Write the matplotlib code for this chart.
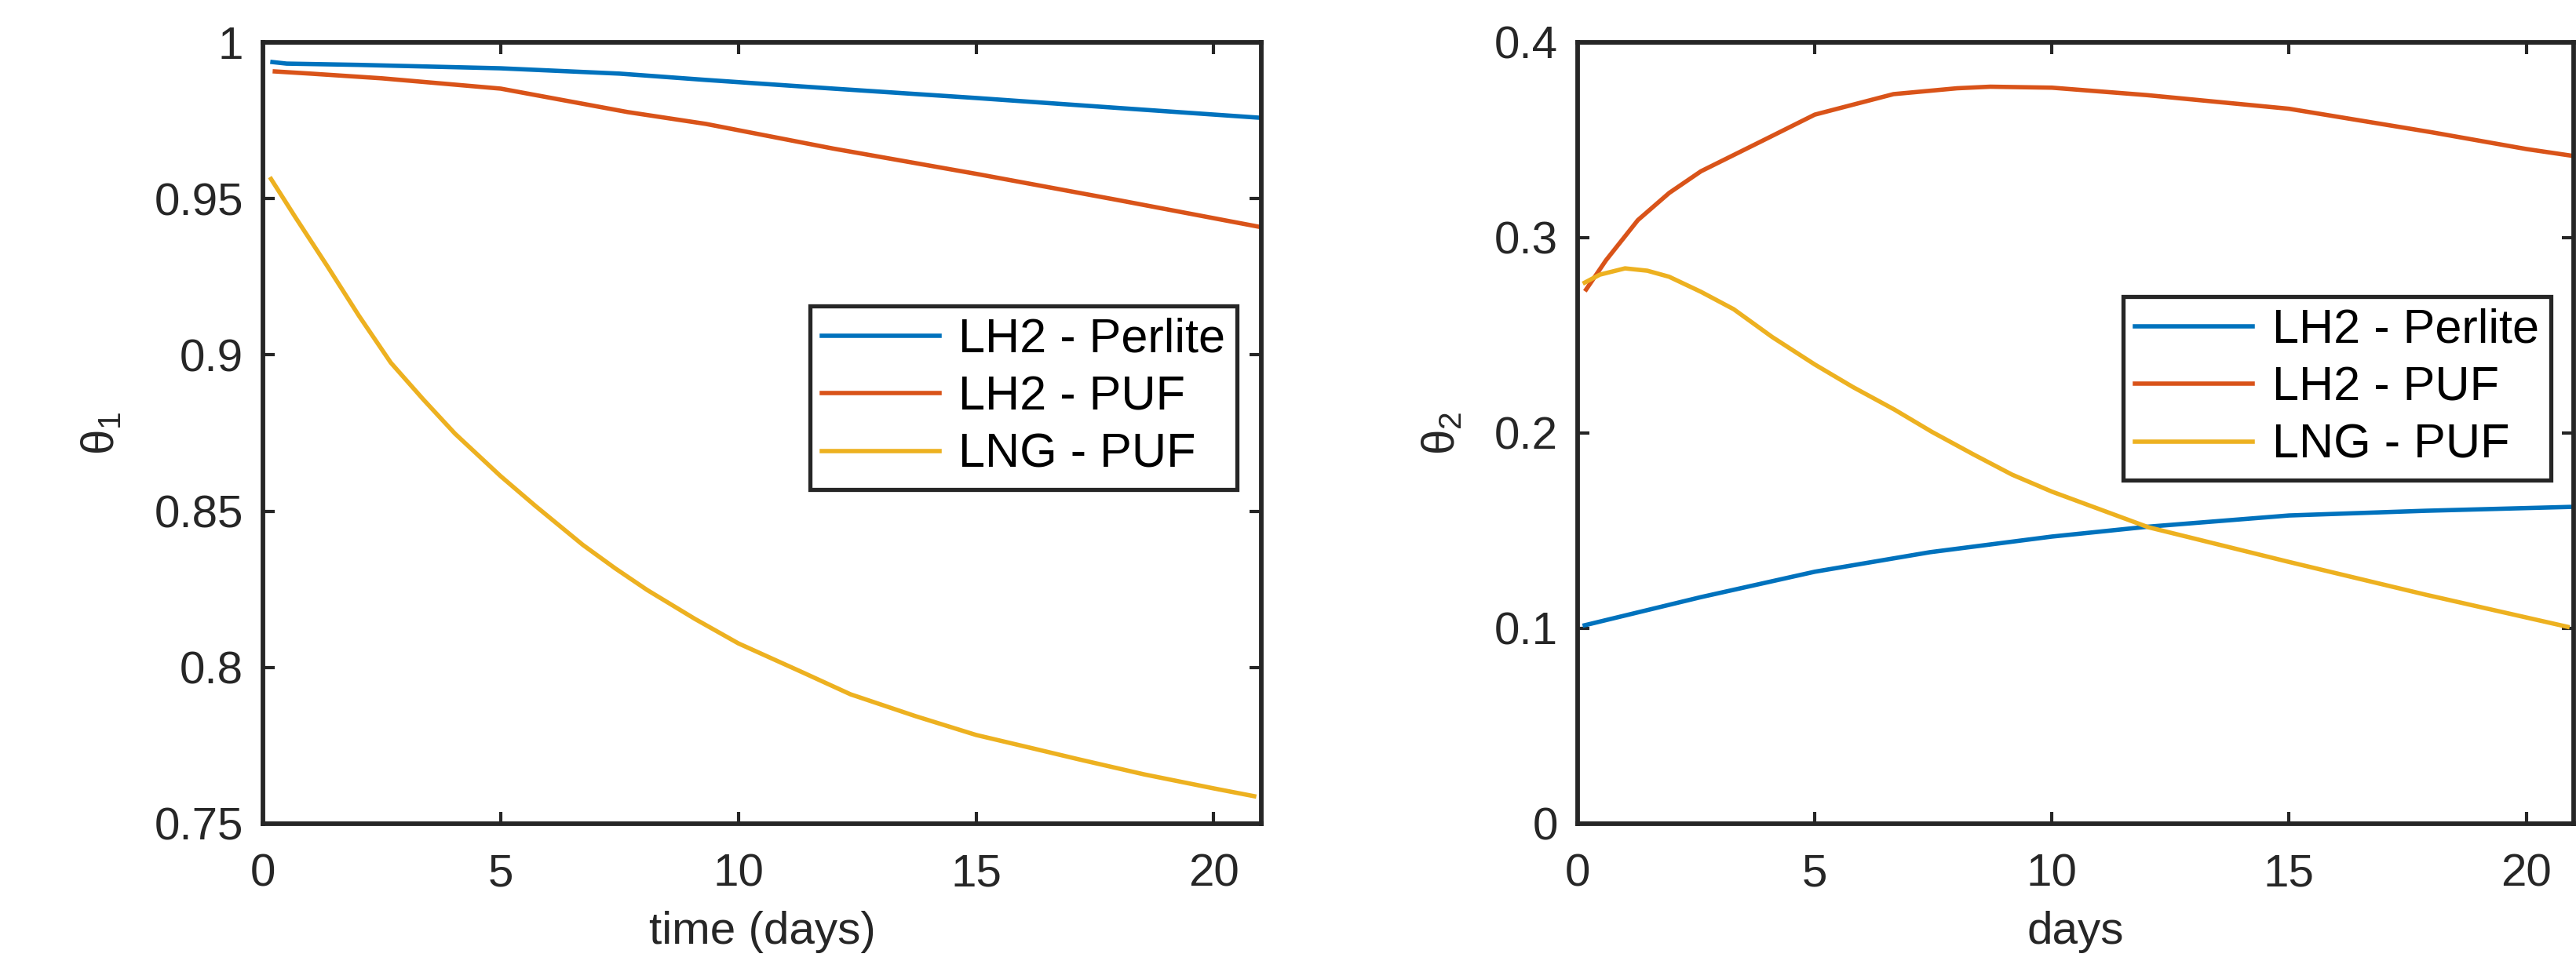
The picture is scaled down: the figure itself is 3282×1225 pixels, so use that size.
import numpy as np
import matplotlib.pyplot as plt

plt.rcParams['font.family'] = ['Liberation Sans', 'DejaVu Sans']
plt.rcParams['mathtext.fontset'] = 'custom'
plt.rcParams['mathtext.rm'] = 'Liberation Sans'
plt.rcParams['mathtext.it'] = 'Liberation Sans:italic'
plt.rcParams['mathtext.default'] = 'regular'

labels = ['LH2 - Perlite', 'LH2 - PUF', 'LNG - PUF']
colors = ['#0072BD', '#D95319', '#EDB120']

# theta_1 (left panel)
t1_perlite = [0.2, 0.5, 2.0, 5.0, 7.5, 9.3, 12.0, 15.0, 18.0, 20.95]
th1_perlite = [0.9937, 0.9932, 0.9928, 0.9917, 0.9900, 0.9880, 0.9852, 0.9822, 0.9790, 0.9759]

t1_puf = [0.25, 1.0, 2.5, 5.0, 7.67, 9.32, 12.0, 15.05, 18.0, 20.95]
th1_puf = [0.9907, 0.9900, 0.9885, 0.9852, 0.9777, 0.9739, 0.9660, 0.9578, 0.9495, 0.9410]

t1_lng = [0.17, 0.68, 1.35, 2.02, 2.69, 3.37, 4.04, 5.0, 5.73, 6.73, 7.41, 8.08, 9.09,
          10.0, 11.34, 12.36, 13.73, 15.0, 16.14, 17.16, 18.53, 20.0, 20.85]
th1_lng = [0.9563, 0.9441, 0.9285, 0.9125, 0.8975, 0.8858, 0.8748, 0.8612, 0.8517, 0.8392,
           0.8317, 0.8248, 0.8155, 0.8077, 0.7985, 0.7914, 0.7844, 0.7784, 0.7743, 0.7706,
           0.7658, 0.7613, 0.7588]

# theta_2 (right panel)
t2_perlite = [0.15, 2.6, 5.0, 7.43, 10.0, 12.0, 15.0, 17.87, 20.95]
th2_perlite = [0.1016, 0.1160, 0.1290, 0.1390, 0.1470, 0.1520, 0.1578, 0.1602, 0.1622]

t2_puf = [0.18, 0.6, 1.27, 1.93, 2.6, 3.96, 5.0, 6.66, 8.0, 8.7, 10.0, 12.0, 15.0, 18.0,
          20.0, 20.95]
th2_puf = [0.2735, 0.2885, 0.3090, 0.3229, 0.3340, 0.3504, 0.3630, 0.3735, 0.3765, 0.3773,
           0.3768, 0.3730, 0.3660, 0.3540, 0.3454, 0.3420]

t2_lng = [0.15, 0.47, 1.0, 1.47, 1.93, 2.6, 3.29, 4.1, 5.0, 5.8, 6.68, 7.47, 8.35, 9.16,
          10.0, 12.03, 15.0, 17.87, 20.87]
th2_lng = [0.2770, 0.2811, 0.2843, 0.2831, 0.2800, 0.2723, 0.2634, 0.2492, 0.2351, 0.2236,
           0.2120, 0.2006, 0.1890, 0.1787, 0.1700, 0.1518, 0.1340, 0.1173, 0.1008]

xticks = [0, 5, 10, 15, 20]
y1_ticks = [0.75, 0.8, 0.85, 0.9, 0.95, 1.0]
y1_ticklabels = ['0.75', '0.8', '0.85', '0.9', '0.95', '1']
y2_ticks = [0, 0.1, 0.2, 0.3, 0.4]
y2_ticklabels = ['0', '0.1', '0.2', '0.3', '0.4']

axcol = '#262626'
fs = 42
lw = 4.0

fig = plt.figure(figsize=(32.82, 12.25), dpi=100)
ax1 = fig.add_axes([0.10207, 0.14286, 0.38757, 0.81306])
ax2 = fig.add_axes([0.61243, 0.14286, 0.38666, 0.81306])


def style_axes(ax):
    for sp in ax.spines.values():
        sp.set_linewidth(4.2)
        sp.set_color(axcol)
    ax.tick_params(direction='in', length=11, width=3, colors=axcol,
                   top=True, right=True, labelsize=fs)
    ax.tick_params(axis='x', pad=27)
    ax.tick_params(axis='y', pad=18)


ax1.plot(t1_perlite, th1_perlite, color=colors[0], lw=lw, label=labels[0])
ax1.plot(t1_puf, th1_puf, color=colors[1], lw=lw, label=labels[1])
ax1.plot(t1_lng, th1_lng, color=colors[2], lw=lw, label=labels[2])
ax1.set_xlim(0, 21)
ax1.set_ylim(0.75, 1)
ax1.set_xticks(xticks)
ax1.set_yticks(y1_ticks)
ax1.set_yticklabels(y1_ticklabels)
ax1.set_xlabel('time (days)', fontsize=fs, color=axcol, labelpad=14)
ax1.set_ylabel('\u03b8$_1$', fontsize=fs, color=axcol, labelpad=28)
style_axes(ax1)

ax2.plot(t2_perlite, th2_perlite, color=colors[0], lw=lw, label=labels[0])
ax2.plot(t2_puf, th2_puf, color=colors[1], lw=lw, label=labels[1])
ax2.plot(t2_lng, th2_lng, color=colors[2], lw=lw, label=labels[2])
ax2.set_xlim(0, 21)
ax2.set_ylim(0, 0.4)
ax2.set_xticks(xticks)
ax2.set_yticks(y2_ticks)
ax2.set_yticklabels(y2_ticklabels)
ax2.set_xlabel('days', fontsize=fs, color=axcol, labelpad=14)
ax2.set_ylabel('\u03b8$_2$', fontsize=fs, color=axcol, labelpad=28)
style_axes(ax2)

for ax, anchor in [(ax1, (0.976, 0.663)), (ax2, (0.977, 0.675))]:
    leg = ax.legend(loc='upper right', bbox_to_anchor=anchor, borderaxespad=0,
                    fontsize=44, fancybox=False, framealpha=1, edgecolor=axcol,
                    handlelength=2.45, handletextpad=0.4, labelspacing=0.27,
                    borderpad=0.25)
    leg.get_frame().set_linewidth(3.8)
    for line in leg.get_lines():
        line.set_linewidth(lw)

fig.savefig('out.png', dpi=100)
